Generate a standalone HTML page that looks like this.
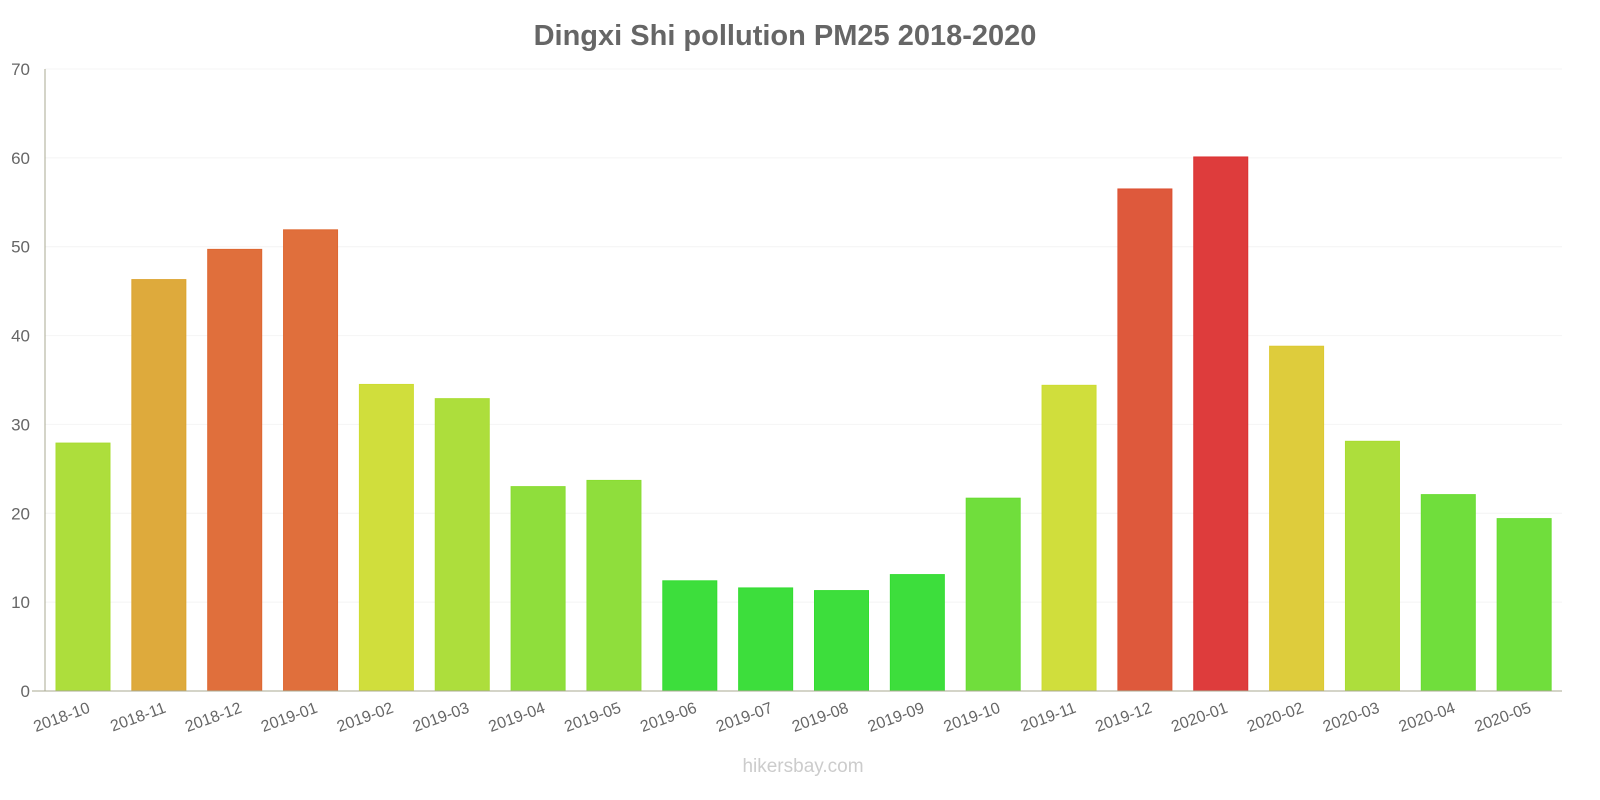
<!DOCTYPE html>
<html><head><meta charset="utf-8"><style>
body{margin:0;background:#fff;}
svg{display:block;font-family:"Liberation Sans",sans-serif;}
</style></head><body>
<svg id="chart" width="1600" height="800">
<text x="785" y="45" text-anchor="middle" font-size="29" font-weight="bold" fill="#666">Dingxi Shi pollution PM25 2018-2020</text>
<g id="grid"></g><g id="bars"></g><g id="xlabels"></g><g id="ylabels"></g>
<line x1="45" y1="69" x2="45" y2="691" stroke="#a8a890" stroke-width="1"/>
<line x1="32" y1="691" x2="1562" y2="691" stroke="#a8a890" stroke-width="1"/>
<text x="803" y="772" text-anchor="middle" font-size="19" fill="#ccc">hikersbay.com</text>
</svg>
<script>
const categories=["2018-10","2018-11","2018-12","2019-01","2019-02","2019-03","2019-04","2019-05","2019-06","2019-07","2019-08","2019-09","2019-10","2019-11","2019-12","2020-01","2020-02","2020-03","2020-04","2020-05"];
const values=[27.9,46.3,49.7,51.9,34.5,32.9,23,23.7,12.4,11.6,11.3,13.1,21.7,34.4,56.5,60.1,38.8,28.1,22.1,19.4];
const colors=["#a9dc31","#dca531","#de6731","#de6731","#cddc31","#a9dc31","#89dc31","#89dc31","#33dc31","#33dc31","#33dc31","#33dc31","#68dc31","#cddc31","#dc5031","#dc3131","#dcc931","#a9dc31","#68dc31","#68dc31"];
const yTicks=[0,10,20,30,40,50,60,70];
const NS="http://www.w3.org/2000/svg";
const x0=45,x1=1562,y0=691,yTop=69,yMax=70;
const band=(x1-x0)/categories.length;
const y=v=>y0-(v/yMax)*(y0-yTop);
const xb=i=>x0+i*band;
function mk(t,a,p){const e=document.createElementNS(NS,t);for(const k in a)e.setAttribute(k,a[k]);p.appendChild(e);return e;}
const G=document.getElementById('grid'),B=document.getElementById('bars'),XL=document.getElementById('xlabels'),YL=document.getElementById('ylabels');
yTicks.forEach(t=>{
 const l=mk('line',{x1:x0,x2:x1,y1:y(t),y2:y(t),stroke:'#f4f4f4'},G);
 
 
 const tx=mk('text',{x:x0-15,y:y(t)+6,'text-anchor':'end','font-size':17,fill:'#666'},YL);
 tx.textContent=t;
 
 
});
categories.forEach((c,i)=>{
 const bx=xb(i)+11,w=54;
 const r=mk('rect',{x:bx,y:y(values[i]),width:w,height:y0-y(values[i]),fill:colors[i],stroke:colors[i],'stroke-opacity':1,'fill-opacity':0.95},B);
 
 
 const cx=bx+w/2+8;
 const tx=mk('text',{x:cx,y:712,'text-anchor':'end','font-size':16,fill:'#666',transform:`rotate(-20 ${cx} 712)`},XL);
 tx.textContent=c;
 
 
});
</script>
</body></html>
